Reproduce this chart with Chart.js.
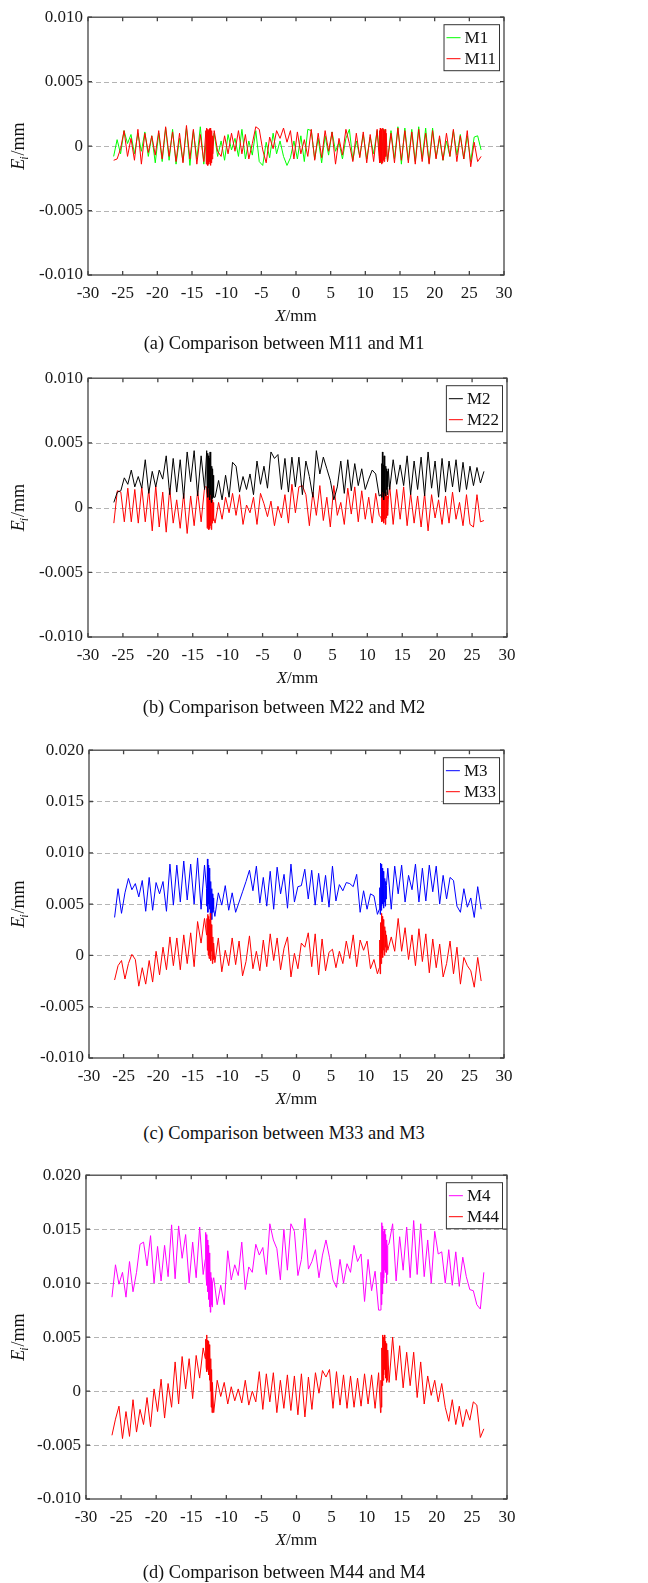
<!DOCTYPE html>
<html>
<head>
<meta charset="utf-8">
<script src="https://cdn.jsdelivr.net/npm/chart.js@4.4.1/dist/chart.umd.min.js"></script>
<style>
  html, body { margin: 0; padding: 0; background: #ffffff; }
  #wrap { position: relative; width: 648px; height: 1583px; background: #ffffff; overflow: hidden; }
  canvas { position: absolute; left: 0; }
  .cap { position: absolute; width: 400px; text-align: center; font-family: "Liberation Serif", "Times New Roman", serif;
         font-size: 18.4px; line-height: 20px; color: #111; white-space: nowrap; }
</style>
</head>
<body>
<div id="wrap"></div>
<script>
// ---------------- DATA ----------------
const X_TICKS = [-30, -25, -20, -15, -10, -5, 0, 5, 10, 15, 20, 25, 30];
const Y_TICKS_SMALL = [-0.010, -0.005, 0, 0.005, 0.010];
const Y_TICKS_LARGE = [-0.010, -0.005, 0, 0.005, 0.010, 0.015, 0.020];

// main sampling positions along X (mm)
const X_GRID = [
  -26.3,-25.8,-25.3,-24.8,-24.3,-23.8,-23.3,-22.8,-22.3,-21.8,
  -21.3,-20.8,-20.3,-19.8,-19.3,-18.8,-18.3,-17.8,-17.3,-16.8,
  -16.3,-15.8,-15.3,-14.8,-14.3,-13.8,-13.3,-12.8,-12.3,-11.8,
  -11.3,-10.8,-10.3,-9.8,-9.3,-8.8,-8.3,-7.8,-7.3,-6.8,
  -6.3,-5.8,-5.3,-4.8,-4.3,-3.8,-3.3,-2.8,-2.3,-1.8,
  -1.3,-0.8,-0.3,0.2,0.7,1.2,1.7,2.2,2.7,3.2,
  3.7,4.2,4.7,5.2,5.7,6.2,6.7,7.2,7.7,8.2,
  8.7,9.2,9.7,10.2,10.7,11.2,11.7,12.2,12.7,13.2,
  13.7,14.2,14.7,15.2,15.7,16.2,16.7,17.2,17.7,18.2,
  18.7,19.2,19.7,20.2,20.7,21.2,21.7,22.2,22.7,23.2,
  23.7,24.2,24.7,25.2,25.7,26.2,26.7
];
// dense sampling in the two transition zones
const BURST_L_X = [-13.0,-12.94,-12.88,-12.82,-12.76,-12.7,-12.64,-12.58,-12.52,-12.46,-12.4,-12.34,-12.28,-12.22,-12.16,-12.1,-12.04,-11.98];
const BURST_R_X = [11.98,12.04,12.1,12.16,12.22,12.28,12.34,12.4,12.46,12.52,12.58,12.64,12.7,12.76,12.82,12.88,12.94,13.0];

// (a)
const M1 = [
  -0.0008,0.0005,-0.0006,0.0012,0.0002,0.0009,-0.0006,0.0010,-0.0004,0.0011,
  -0.0008,0.0008,-0.0013,0.0010,-0.0012,0.0014,-0.0011,0.0013,-0.0014,0.0006,
  -0.0012,0.0014,-0.0015,0.0012,-0.0010,0.0015,-0.0014,0.0011,-0.0012,0.0010,
  -0.0008,0.0004,-0.0011,0.0009,-0.0003,0.0006,-0.0008,0.0013,-0.0010,0.0004,
  -0.0007,0.0012,-0.0012,-0.0015,0.0003,-0.0009,0.0010,-0.0006,0.0004,-0.0008,
  -0.0015,-0.0009,0.0004,-0.0010,0.0008,-0.0012,0.0013,0.0012,-0.0010,0.0006,
  -0.0013,0.0008,-0.0007,0.0011,-0.0004,0.0003,-0.0010,0.0006,0.0013,-0.0011,
  0.0004,-0.0008,0.0009,-0.0010,0.0007,-0.0006,0.0012,-0.0013,0.0013,-0.0012,
  0.0012,-0.0010,0.0015,-0.0014,0.0014,-0.0011,0.0013,-0.0012,0.0015,-0.0010,
  0.0014,-0.0013,0.0014,-0.0009,0.0006,-0.0011,0.0004,-0.0008,0.0012,-0.0007,
  0.0009,-0.0010,0.0008,-0.0012,0.0007,0.0008,-0.0003
];
const M11 = [
  -0.0011,-0.0010,-0.0002,0.0012,-0.0008,0.0006,-0.0011,0.0013,-0.0014,0.0010,
  -0.0005,0.0008,-0.0007,0.0012,-0.0010,0.0015,-0.0008,0.0011,-0.0012,0.0010,
  -0.0013,0.0016,-0.0010,0.0013,-0.0014,0.0009,-0.0012,0.0014,-0.0014,0.0012,
  -0.0004,-0.0008,0.0008,-0.0006,0.0010,-0.0004,0.0012,-0.0006,0.0009,-0.0010,
  0.0002,0.0015,0.0013,-0.0003,-0.0013,0.0007,-0.0002,0.0012,0.0006,0.0014,
  0.0003,0.0012,-0.0010,0.0011,-0.0006,0.0005,-0.0008,0.0013,-0.0011,0.0010,
  -0.0009,0.0012,-0.0004,0.0011,-0.0014,0.0006,-0.0007,0.0013,0.0002,-0.0012,
  0.0010,-0.0009,0.0011,-0.0013,0.0009,-0.0012,0.0013,-0.0014,0.0013,-0.0012,
  0.0010,-0.0013,0.0014,-0.0011,0.0012,-0.0013,0.0011,-0.0014,0.0013,-0.0012,
  0.0010,-0.0014,0.0012,-0.0010,0.0008,-0.0011,0.0010,-0.0008,0.0013,-0.0012,
  0.0008,-0.0010,0.0012,-0.0016,0.0003,-0.0012,-0.0008
];
const M11_BL = [0.0012,-0.0014,0.0014,-0.0013,0.0013,-0.0015,0.0012,-0.0014,0.0013,-0.0012,0.0014,-0.0015,0.0011,-0.0013,0.0012,-0.0010,0.0008,-0.0006];
const M11_BR = [-0.0008,0.0012,-0.0013,0.0014,-0.0012,0.0013,-0.0014,0.0012,-0.0013,0.0014,-0.0011,0.0013,-0.0012,0.0012,-0.0010,0.0013,-0.0008,0.0010];

// (b)
const M2 = [
  0.0004,0.0012,0.0013,0.0023,0.0018,0.0029,0.0016,0.0024,0.0015,0.0037,
  0.0011,0.0028,0.0016,0.0029,0.0022,0.0040,0.0010,0.0038,0.0012,0.0037,
  0.0007,0.0043,0.0020,0.0044,0.0009,0.0040,0.0014,0.0038,0.0030,0.0008,
  0.0021,0.0006,0.0025,0.0008,0.0035,0.0032,0.0012,0.0024,0.0014,0.0026,
  0.0010,0.0036,0.0018,0.0032,0.0015,0.0043,0.0038,0.0041,0.0014,0.0038,
  0.0012,0.0039,0.0016,0.0039,0.0010,0.0036,0.0024,0.0008,0.0044,0.0026,
  0.0039,0.0030,0.0021,0.0006,0.0016,0.0036,0.0011,0.0037,0.0013,0.0034,
  0.0017,0.0030,0.0014,0.0022,0.0029,0.0026,0.0009,0.0032,0.0040,0.0014,
  0.0037,0.0018,0.0033,0.0017,0.0040,0.0010,0.0036,0.0014,0.0039,0.0009,
  0.0043,0.0015,0.0036,0.0008,0.0038,0.0012,0.0036,0.0016,0.0037,0.0012,
  0.0035,0.0014,0.0032,0.0017,0.0031,0.0019,0.0028
];
const M2_BL = [0.0044,0.0012,0.0042,0.0008,0.0040,0.0015,0.0038,0.0006,0.0043,0.0010,0.0036,0.0004,0.0032,0.0007,0.0030,0.0012,0.0025,0.0008];
const M2_BR = [0.0010,0.0034,0.0008,0.0043,0.0012,0.0033,0.0006,0.0040,0.0011,0.0036,0.0009,0.0032,0.0014,0.0030,0.0010,0.0028,0.0016,0.0030];
const M22 = [
  -0.0012,0.0013,0.0012,-0.0011,0.0015,-0.0011,0.0014,-0.0012,0.0016,-0.0011,
  0.0014,-0.0018,0.0017,-0.0015,0.0012,-0.0019,0.0015,-0.0012,0.0006,-0.0016,
  0.0011,-0.0020,0.0009,-0.0014,0.0013,-0.0011,0.0016,-0.0015,0.0019,-0.0012,
  0.0004,-0.0009,0.0008,-0.0004,0.0011,-0.0006,0.0010,-0.0013,0.0002,-0.0004,
  0.0008,-0.0013,0.0011,0.0003,-0.0007,0.0005,-0.0014,0.0001,-0.0008,0.0010,
  -0.0012,0.0018,-0.0004,0.0016,0.0017,0.0010,-0.0014,0.0012,-0.0006,0.0017,
  -0.0010,0.0008,-0.0015,0.0017,-0.0006,0.0004,-0.0013,0.0015,-0.0005,0.0016,
  -0.0011,0.0013,-0.0009,0.0008,-0.0012,0.0011,-0.0006,0.0014,-0.0010,0.0017,
  -0.0013,0.0014,-0.0009,0.0016,-0.0014,0.0011,-0.0012,0.0009,-0.0015,0.0011,
  -0.0018,0.0010,-0.0008,0.0006,-0.0013,0.0009,-0.0012,0.0012,-0.0009,0.0004,
  -0.0014,0.0010,-0.0013,-0.0015,0.0010,-0.0011,-0.0010
];
const M22_BL = [0.0016,-0.0016,0.0018,-0.0015,0.0014,-0.0017,0.0012,-0.0016,0.0017,-0.0014,0.0013,-0.0017,0.0010,-0.0012,0.0006,-0.0010,0.0004,-0.0008];
const M22_BR = [-0.0008,0.0012,-0.0011,0.0014,-0.0010,0.0013,-0.0012,0.0015,-0.0009,0.0011,-0.0013,0.0012,-0.0008,0.0010,-0.0005,0.0009,-0.0006,0.0006];

// (c)
const M3 = [
  0.0037,0.0065,0.0041,0.0061,0.0075,0.0064,0.0070,0.0057,0.0073,0.0043,
  0.0076,0.0044,0.0071,0.0060,0.0072,0.0043,0.0089,0.0049,0.0088,0.0052,
  0.0092,0.0054,0.0089,0.0050,0.0095,0.0045,0.0088,0.0052,0.0043,0.0038,
  0.0061,0.0049,0.0068,0.0044,0.0061,0.0042,0.0052,0.0062,0.0072,0.0083,
  0.0063,0.0087,0.0051,0.0076,0.0048,0.0082,0.0045,0.0086,0.0060,0.0079,
  0.0046,0.0089,0.0052,0.0067,0.0068,0.0084,0.0055,0.0083,0.0049,0.0080,
  0.0052,0.0078,0.0047,0.0087,0.0053,0.0069,0.0063,0.0071,0.0070,0.0067,
  0.0079,0.0042,0.0063,0.0045,0.0060,0.0058,0.0040,0.0090,0.0050,0.0085,
  0.0045,0.0087,0.0060,0.0088,0.0052,0.0078,0.0064,0.0089,0.0052,0.0085,
  0.0053,0.0088,0.0062,0.0087,0.0050,0.0078,0.0055,0.0076,0.0073,0.0048,
  0.0042,0.0065,0.0047,0.0056,0.0037,0.0067,0.0045
];
const M3_BL = [0.0065,0.0048,0.0094,0.0042,0.0088,0.0050,0.0085,0.0045,0.0078,0.0040,0.0072,0.0038,0.0065,0.0035,0.0060,0.0042,0.0056,0.0045];
const M3_BR = [0.0045,0.0066,0.0040,0.0090,0.0044,0.0089,0.0048,0.0085,0.0050,0.0082,0.0046,0.0078,0.0052,0.0075,0.0048,0.0072,0.0055,0.0068];
const M33 = [
  -0.0024,-0.0010,-0.0005,-0.0023,-0.0008,0.0001,-0.0004,-0.0030,-0.0012,-0.0028,
  -0.0005,-0.0026,0.0004,-0.0019,0.0008,-0.0014,0.0018,-0.0010,0.0017,-0.0014,
  0.0020,-0.0008,0.0022,-0.0011,0.0033,0.0012,0.0036,0.0005,0.0040,-0.0007,
  0.0017,-0.0016,0.0005,-0.0010,0.0017,-0.0009,0.0014,-0.0020,-0.0006,0.0019,
  -0.0013,0.0004,-0.0015,0.0015,-0.0011,0.0021,-0.0005,0.0017,-0.0014,0.0007,
  0.0018,-0.0021,0.0002,-0.0013,0.0012,0.0008,0.0022,-0.0011,0.0021,-0.0019,
  0.0016,-0.0015,0.0003,0.0006,-0.0012,0.0004,-0.0008,0.0014,-0.0003,0.0020,
  -0.0011,0.0015,0.0005,0.0014,-0.0013,-0.0004,-0.0018,0.0041,0.0030,0.0005,
  0.0018,0.0004,0.0036,0.0004,0.0027,-0.0004,0.0020,-0.0010,0.0026,-0.0006,
  0.0021,-0.0017,0.0016,-0.0012,0.0011,-0.0021,-0.0008,0.0014,-0.0018,0.0008,
  -0.0028,-0.0002,-0.0010,-0.0015,-0.0031,-0.0002,-0.0025
];
const M33_BL = [0.0020,0.0036,0.0005,0.0040,0.0000,0.0038,-0.0003,0.0035,0.0002,0.0041,-0.0005,0.0030,0.0004,0.0026,-0.0008,0.0018,-0.0004,0.0012];
const M33_BR = [-0.0012,0.0015,-0.0018,0.0032,-0.0008,0.0041,0.0002,0.0038,-0.0002,0.0035,0.0005,0.0030,0.0000,0.0028,0.0008,0.0024,0.0003,0.0020];

// (d)
const M4 = [
  0.0087,0.0117,0.0099,0.0110,0.0087,0.0120,0.0092,0.0110,0.0136,0.0138,
  0.0116,0.0144,0.0100,0.0134,0.0102,0.0135,0.0106,0.0154,0.0104,0.0153,
  0.0123,0.0145,0.0100,0.0138,0.0105,0.0152,0.0108,0.0143,0.0075,0.0105,
  0.0080,0.0098,0.0080,0.0130,0.0103,0.0117,0.0107,0.0138,0.0094,0.0115,
  0.0110,0.0136,0.0126,0.0133,0.0108,0.0155,0.0140,0.0132,0.0103,0.0150,
  0.0112,0.0155,0.0148,0.0107,0.0122,0.0160,0.0113,0.0120,0.0131,0.0105,
  0.0126,0.0140,0.0124,0.0103,0.0096,0.0122,0.0100,0.0118,0.0110,0.0135,
  0.0120,0.0127,0.0083,0.0122,0.0093,0.0111,0.0075,0.0155,0.0100,0.0137,
  0.0155,0.0102,0.0143,0.0112,0.0152,0.0105,0.0158,0.0108,0.0155,0.0106,
  0.0140,0.0100,0.0148,0.0127,0.0129,0.0100,0.0131,0.0098,0.0129,0.0097,
  0.0124,0.0106,0.0094,0.0093,0.0080,0.0076,0.0110
];
const M4_BL = [0.0122,0.0147,0.0105,0.0145,0.0098,0.0140,0.0092,0.0135,0.0085,0.0128,0.0078,0.0120,0.0073,0.0110,0.0080,0.0105,0.0078,0.0100];
const M4_BR = [0.0075,0.0110,0.0080,0.0156,0.0090,0.0153,0.0100,0.0148,0.0105,0.0150,0.0112,0.0145,0.0110,0.0140,0.0100,0.0138,0.0108,0.0135];
const M44 = [
  -0.0041,-0.0026,-0.0014,-0.0044,-0.0019,-0.0042,-0.0008,-0.0038,-0.0017,-0.0031,
  -0.0006,-0.0033,0.0002,-0.0019,0.0011,-0.0025,0.0007,-0.0015,0.0027,-0.0012,
  0.0032,0.0002,0.0030,-0.0007,0.0033,0.0012,0.0040,0.0021,0.0050,-0.0020,
  0.0010,-0.0005,0.0008,-0.0012,0.0004,-0.0009,0.0002,-0.0011,0.0010,-0.0013,
  0.0000,-0.0010,0.0018,-0.0017,0.0016,-0.0010,0.0017,-0.0020,0.0010,-0.0016,
  0.0015,-0.0018,0.0014,-0.0022,0.0016,-0.0024,0.0013,-0.0017,0.0017,-0.0002,
  0.0019,0.0013,0.0020,-0.0016,0.0018,-0.0013,0.0015,-0.0016,0.0014,-0.0015,
  0.0012,-0.0014,0.0016,-0.0012,0.0015,-0.0016,0.0017,-0.0020,0.0052,0.0008,
  0.0050,0.0010,0.0042,0.0003,0.0036,0.0005,0.0036,-0.0006,0.0027,-0.0012,
  0.0014,-0.0004,0.0010,-0.0010,0.0007,-0.0015,-0.0028,-0.0008,-0.0031,-0.0014,
  -0.0033,-0.0017,-0.0027,-0.0010,-0.0013,-0.0043,-0.0035
];
const M44_BL = [0.0030,0.0048,0.0022,0.0052,0.0018,0.0047,0.0020,0.0046,0.0015,0.0043,0.0010,0.0038,0.0000,0.0030,-0.0015,0.0020,-0.0020,0.0008];
const M44_BR = [-0.0020,0.0010,-0.0015,0.0040,0.0005,0.0052,0.0010,0.0050,0.0015,0.0052,0.0020,0.0046,0.0012,0.0044,0.0008,0.0040,0.0010,0.0038];

// ---------------- LAYOUT / STYLE ----------------
const FONT = '"Liberation Serif", "Times New Roman", serif';
const PANELS = [
  { area: [88, 504, 17, 275], yTicks: Y_TICKS_SMALL, capY: 343, caption: '(a) Comparison between M11 and M1',
    series: [ { label: 'M1', color: '#00ff00', main: M1, bl: null, br: null, order: 1 },
              { label: 'M11', color: '#ff0000', main: M11, bl: M11_BL, br: M11_BR, order: 0 } ] },
  { area: [88, 507, 378, 637], yTicks: Y_TICKS_SMALL, capY: 707, caption: '(b) Comparison between M22 and M2',
    series: [ { label: 'M2', color: '#000000', main: M2, bl: M2_BL, br: M2_BR, order: 0 },
              { label: 'M22', color: '#ff0000', main: M22, bl: M22_BL, br: M22_BR, order: 1 } ] },
  { area: [89, 504, 750, 1058], yTicks: Y_TICKS_LARGE, capY: 1133, caption: '(c) Comparison between M33 and M3',
    series: [ { label: 'M3', color: '#0000ff', main: M3, bl: M3_BL, br: M3_BR, order: 1 },
              { label: 'M33', color: '#ff0000', main: M33, bl: M33_BL, br: M33_BR, order: 0 } ] },
  { area: [86, 507, 1175, 1499], yTicks: Y_TICKS_LARGE, capY: 1572, caption: '(d) Comparison between M44 and M4',
    series: [ { label: 'M4', color: '#ff00ff', main: M4, bl: M4_BL, br: M4_BR, order: 1 },
              { label: 'M44', color: '#ff0000', main: M44, bl: M44_BL, br: M44_BR, order: 0 } ] }
];

function buildPoints(main, bl, br) {
  const lo1 = BURST_L_X[0], hi1 = BURST_L_X[BURST_L_X.length - 1];
  const lo2 = BURST_R_X[0], hi2 = BURST_R_X[BURST_R_X.length - 1];
  const pts = [];
  X_GRID.forEach((x, i) => {
    if (bl && x >= lo1 && x <= hi1) return;
    if (br && x >= lo2 && x <= hi2) return;
    pts.push({ x: x, y: main[i] });
  });
  if (bl) BURST_L_X.forEach((x, i) => pts.push({ x: x, y: bl[i] }));
  if (br) BURST_R_X.forEach((x, i) => pts.push({ x: x, y: br[i] }));
  pts.sort((a, b) => a.x - b.x);
  return pts;
}

function framePlugin(panel) {
  return {
    id: 'frameDeco',
    beforeDatasetsDraw(chart) {
      const ctx = chart.ctx, ca = chart.chartArea, ys = chart.scales.y;
      ctx.save();
      ctx.strokeStyle = '#b4b4b4';
      ctx.lineWidth = 1;
      ctx.setLineDash([5, 3]);
      panel.yTicks.forEach(v => {
        if (v === ys.min || v === ys.max) return;
        const py = Math.round(ys.getPixelForValue(v)) + 0.5;
        ctx.beginPath(); ctx.moveTo(ca.left, py); ctx.lineTo(ca.right, py); ctx.stroke();
      });
      ctx.restore();
    },
    afterDraw(chart) {
      const ctx = chart.ctx, ca = chart.chartArea, xs = chart.scales.x, ys = chart.scales.y;
      ctx.save();
      // frame
      ctx.strokeStyle = '#444';
      ctx.lineWidth = 1.3;
      ctx.setLineDash([]);
      ctx.strokeRect(ca.left, ca.top, ca.right - ca.left, ca.bottom - ca.top);
      // inward ticks
      const tl = 4;
      ctx.beginPath();
      X_TICKS.forEach(v => {
        const px = xs.getPixelForValue(v);
        ctx.moveTo(px, ca.bottom); ctx.lineTo(px, ca.bottom - tl);
        ctx.moveTo(px, ca.top); ctx.lineTo(px, ca.top + tl);
      });
      panel.yTicks.forEach(v => {
        const py = ys.getPixelForValue(v);
        ctx.moveTo(ca.left, py); ctx.lineTo(ca.left + tl, py);
        ctx.moveTo(ca.right, py); ctx.lineTo(ca.right - tl, py);
      });
      ctx.stroke();

      // legend
      ctx.font = '17px ' + FONT;
      const tw = Math.max(...panel.series.map(s => ctx.measureText(s.label).width));
      const bw = 3 + 14 + 4 + tw + 3, bh = 46;
      const bx = ca.right - 5 - bw, by = ca.top + 7;
      ctx.fillStyle = '#ffffff';
      ctx.fillRect(bx, by, bw, bh);
      ctx.strokeStyle = '#333';
      ctx.lineWidth = 1;
      ctx.strokeRect(bx + 0.5, by + 0.5, bw, bh);
      panel.series.forEach((s, i) => {
        const ry = by + 13 + i * 21;
        ctx.strokeStyle = s.color;
        ctx.lineWidth = 1;
        ctx.beginPath(); ctx.moveTo(bx + 3, ry + 0.5); ctx.lineTo(bx + 17, ry + 0.5); ctx.stroke();
        ctx.fillStyle = '#111';
        ctx.textBaseline = 'middle';
        ctx.textAlign = 'left';
        ctx.fillText(s.label, bx + 21, ry + 1);
      });

      // x title: X/mm
      ctx.fillStyle = '#111';
      ctx.textBaseline = 'alphabetic';
      ctx.textAlign = 'left';
      const fI = 'italic 17px ' + FONT, fN = '17px ' + FONT;
      ctx.font = fI; const wX = ctx.measureText('X').width;
      ctx.font = fN; const wR = ctx.measureText('/mm').width;
      const cx = (ca.left + ca.right) / 2;
      const by2 = ca.bottom + 46;
      let sx = cx - (wX + wR) / 2;
      ctx.font = fI; ctx.fillText('X', sx, by2);
      ctx.font = fN; ctx.fillText('/mm', sx + wX, by2);

      // y title: E_i/mm rotated
      ctx.save();
      ctx.translate(18, (ca.top + ca.bottom) / 2);
      ctx.rotate(-Math.PI / 2);
      const fE = 'italic 18px ' + FONT, fi = 'italic 12px ' + FONT, fM = '18px ' + FONT;
      ctx.font = fE; const wE = ctx.measureText('E').width;
      ctx.font = fi; const wi = ctx.measureText('i').width;
      ctx.font = fM; const wm = ctx.measureText('/mm').width;
      let s0 = -(wE + wi + wm) / 2;
      ctx.font = fE; ctx.fillText('E', s0, 6);
      ctx.font = fi; ctx.fillText('i', s0 + wE - 1, 10);
      ctx.font = fM; ctx.fillText('/mm', s0 + wE + wi, 6);
      ctx.restore();

      ctx.restore();
    }
  };
}

const wrap = document.getElementById('wrap');
const PAD_TOP = 15, AX_X = 60, AX_Y = 60, PAD_BOTTOM = 5, W = 648;

PANELS.forEach(panel => {
  const [L, R, T, B] = panel.area;
  const H = (B - T) + PAD_TOP + AX_X + PAD_BOTTOM;
  const cv = document.createElement('canvas');
  cv.width = W; cv.height = H;
  cv.style.width = W + 'px'; cv.style.height = H + 'px';
  cv.style.top = (T - PAD_TOP) + 'px';
  wrap.appendChild(cv);

  const yMin = panel.yTicks[0], yMax = panel.yTicks[panel.yTicks.length - 1];
  new Chart(cv.getContext('2d'), {
    type: 'line',
    data: {
      datasets: panel.series.map(s => ({
        label: s.label,
        data: buildPoints(s.main, s.bl, s.br),
        borderColor: s.color,
        backgroundColor: s.color,
        borderWidth: 1,
        pointRadius: 0,
        tension: 0,
        fill: false,
        order: s.order
      }))
    },
    options: {
      responsive: false,
      animation: false,
      devicePixelRatio: 1,
      layout: { padding: { left: L - AX_Y, right: W - R, top: PAD_TOP, bottom: PAD_BOTTOM } },
      plugins: { legend: { display: false }, tooltip: { enabled: false }, title: { display: false } },
      scales: {
        x: {
          type: 'linear', min: -30, max: 30,
          afterBuildTicks: sc => { sc.ticks = X_TICKS.map(v => ({ value: v })); },
          afterFit: sc => { sc.height = AX_X; },
          grid: { display: false, drawTicks: false },
          border: { display: false },
          ticks: { font: { family: FONT, size: 17 }, color: '#1a1a1a', padding: 8, autoSkip: false, maxRotation: 0,
                   callback: v => String(v) }
        },
        y: {
          type: 'linear', min: yMin, max: yMax,
          afterBuildTicks: sc => { sc.ticks = panel.yTicks.map(v => ({ value: v })); },
          afterFit: sc => { sc.width = AX_Y; },
          grid: { display: false, drawTicks: false },
          border: { display: false },
          ticks: { font: { family: FONT, size: 17 }, color: '#1a1a1a', padding: 5,
                   callback: v => (v === 0 ? '0' : Number(v).toFixed(3)) }
        }
      }
    },
    plugins: [framePlugin(panel)]
  });

  const cap = document.createElement('div');
  cap.className = 'cap';
  cap.textContent = panel.caption;
  cap.style.left = (284 - 200) + 'px';
  cap.style.top = (panel.capY - 10) + 'px';
  wrap.appendChild(cap);
});
</script>
</body>
</html>
